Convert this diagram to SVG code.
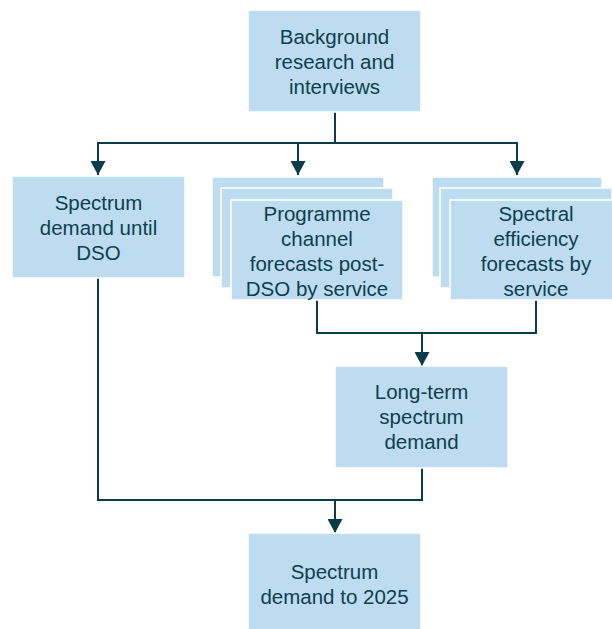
<svg xmlns="http://www.w3.org/2000/svg" width="612" height="629" viewBox="0 0 612 629">
  <style>
    .box { fill: #bddcef; stroke: #ffffff; stroke-width: 1.5; }
    .lbl { font-family: "Liberation Sans", Arial, sans-serif; font-size: 20.5px; fill: #0d3f4d; text-anchor: middle; }
    .wire { fill: none; stroke: #0b3c4a; stroke-width: 2; }
  </style>
  <defs>
    <marker id="arrow" viewBox="0 0 14 15" refX="14" refY="7.5" markerWidth="14" markerHeight="15" markerUnits="userSpaceOnUse" orient="auto">
      <path d="M0,0 L14,7.5 L0,15 Z" fill="#0b3c4a"/>
    </marker>
  </defs>

  <rect width="612" height="629" fill="#ffffff"/>

  <g id="connectors">
    <path class="wire" d="M335,112 V143"/>
    <path class="wire" d="M98,143 H517"/>
    <path class="wire" d="M98,142 V175" marker-end="url(#arrow)"/>
    <path class="wire" d="M298,143 V175" marker-end="url(#arrow)"/>
    <path class="wire" d="M517,142 V175" marker-end="url(#arrow)"/>
    <path class="wire" d="M317,300 V333 H536 V300"/>
    <path class="wire" d="M422,333 V366" marker-end="url(#arrow)"/>
    <path class="wire" d="M98,278 V500 H422 V468"/>
    <path class="wire" d="M335,500 V533" marker-end="url(#arrow)"/>
  </g>

  <g id="background-research">
    <rect class="box" x="248" y="10" width="173" height="102"/>
    <text class="lbl" x="334.5" y="44">Background</text>
    <text class="lbl" x="334.5" y="69">research and</text>
    <text class="lbl" x="334.5" y="94">interviews</text>
  </g>

  <g id="demand-until-dso">
    <rect class="box" x="12" y="176" width="173" height="102"/>
    <text class="lbl" x="98.5" y="210">Spectrum</text>
    <text class="lbl" x="98.5" y="235">demand until</text>
    <text class="lbl" x="98.5" y="260">DSO</text>
  </g>

  <g id="programme-forecasts">
    <rect class="box" x="212" y="177" width="172" height="100"/>
    <rect class="box" x="221" y="188" width="172" height="100"/>
    <rect class="box" x="231" y="200" width="172" height="100"/>
    <text class="lbl" x="317" y="221">Programme</text>
    <text class="lbl" x="317" y="246">channel</text>
    <text class="lbl" x="317" y="271">forecasts post-</text>
    <text class="lbl" x="317" y="296">DSO by service</text>
  </g>

  <g id="efficiency-forecasts">
    <rect class="box" x="432" y="177" width="170" height="100"/>
    <rect class="box" x="440" y="188" width="172" height="100"/>
    <rect class="box" x="450" y="200" width="172" height="100"/>
    <text class="lbl" x="536" y="221">Spectral</text>
    <text class="lbl" x="536" y="246">efficiency</text>
    <text class="lbl" x="536" y="271">forecasts by</text>
    <text class="lbl" x="536" y="296">service</text>
  </g>

  <g id="long-term-demand">
    <rect class="box" x="335" y="366" width="173" height="102"/>
    <text class="lbl" x="421.5" y="399">Long-term</text>
    <text class="lbl" x="421.5" y="424">spectrum</text>
    <text class="lbl" x="421.5" y="449">demand</text>
  </g>

  <g id="demand-to-2025">
    <rect class="box" x="248" y="533" width="173" height="102"/>
    <text class="lbl" x="334.5" y="579">Spectrum</text>
    <text class="lbl" x="334.5" y="604">demand to 2025</text>
  </g>
</svg>
